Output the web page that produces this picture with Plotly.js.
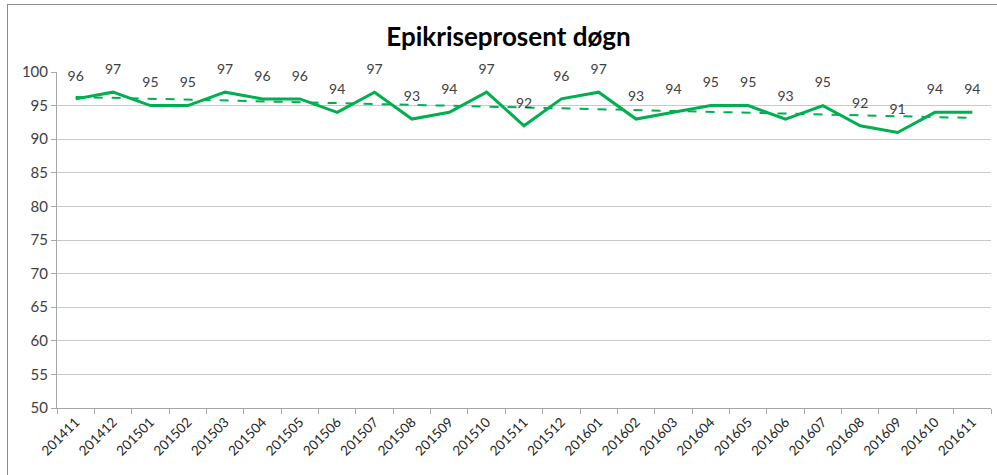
<!DOCTYPE html>
<html>
<head>
<meta charset="utf-8">
<script src="https://cdn.plot.ly/plotly-3.0.1.min.js"></script>
<style>
html,body{margin:0;padding:0;background:#fff;}
#wrap{position:relative;width:997px;height:475px;}
#chart{width:997px;height:475px;}
#frame{position:absolute;left:7px;top:4px;width:995px;height:475px;border:1px solid #8c8c8c;pointer-events:none;box-sizing:border-box;}
</style>
</head>
<body>
<div id="wrap"><div id="chart"></div><div id="frame"></div></div>
<script>
const periods = ["201411","201412","201501","201502","201503","201504","201505","201506","201507","201508","201509","201510","201511","201512","201601","201602","201603","201604","201605","201606","201607","201608","201609","201610","201611"];
const values = [96,97,95,95,97,96,96,94,97,93,94,97,92,96,97,93,94,95,95,93,95,92,91,94,94];

// linear trend (least squares) as in Excel trendline
const n = values.length;
let sx=0, sy=0, sxy=0, sxx=0;
for (let i=0;i<n;i++){ const x=i+1; sx+=x; sy+=values[i]; sxy+=x*values[i]; sxx+=x*x; }
const slope = (n*sxy - sx*sy)/(n*sxx - sx*sx);
const intercept = (sy - slope*sx)/n;
const trend = values.map((v,i)=> intercept + slope*(i+1));

const green = "rgb(0,176,80)";
const font = "Lato, 'Open Sans', sans-serif";

const data = [
  {x: periods, y: trend, type: "scatter", mode: "lines", line: {color: green, width: 2, dash: "dash"}, hoverinfo: "skip"},
  {x: periods, y: values, type: "scatter", mode: "lines", line: {color: green, width: 3}},
  {x: periods, y: values, type: "scatter", mode: "markers+text", marker: {size: 22, opacity: 0, color: green},
   text: values.map(String), textposition: "top center", textfont: {family: font, size: 14, color: "#404040"}, cliponaxis: false}
];

const layout = {
  width: 997, height: 475,
  margin: {l: 57, r: 6, t: 72, b: 67},
  paper_bgcolor: "#fff", plot_bgcolor: "#fff",
  showlegend: false,
  title: {text: "<b>Epikriseprosent døgn</b>", font: {family: font, size: 26, color: "#000"}, x: 0.51, xanchor: "center", y: 0.922, yanchor: "middle"},
  xaxis: {type: "category", range: [-0.5, 24.5], tickangle: -45, tickson: "boundaries", ticks: "outside", ticklen: 5, tickcolor: "#a6a6a6",
          showgrid: false, showline: true, linecolor: "#a6a6a6", linewidth: 1,
          tickfont: {family: font, size: 13.5, color: "#262626"}},
  yaxis: {range: [50, 100], dtick: 5, ticks: "outside", ticklen: 5, tickcolor: "#a6a6a6",
          showgrid: true, gridcolor: "#c8c8c8", gridwidth: 1, showline: true, linecolor: "#a6a6a6", zeroline: false,
          tickfont: {family: font, size: 15, color: "#404040"}}
};

Plotly.newPlot("chart", data, layout, {displayModeBar: false, staticPlot: true});
</script>
</body>
</html>
